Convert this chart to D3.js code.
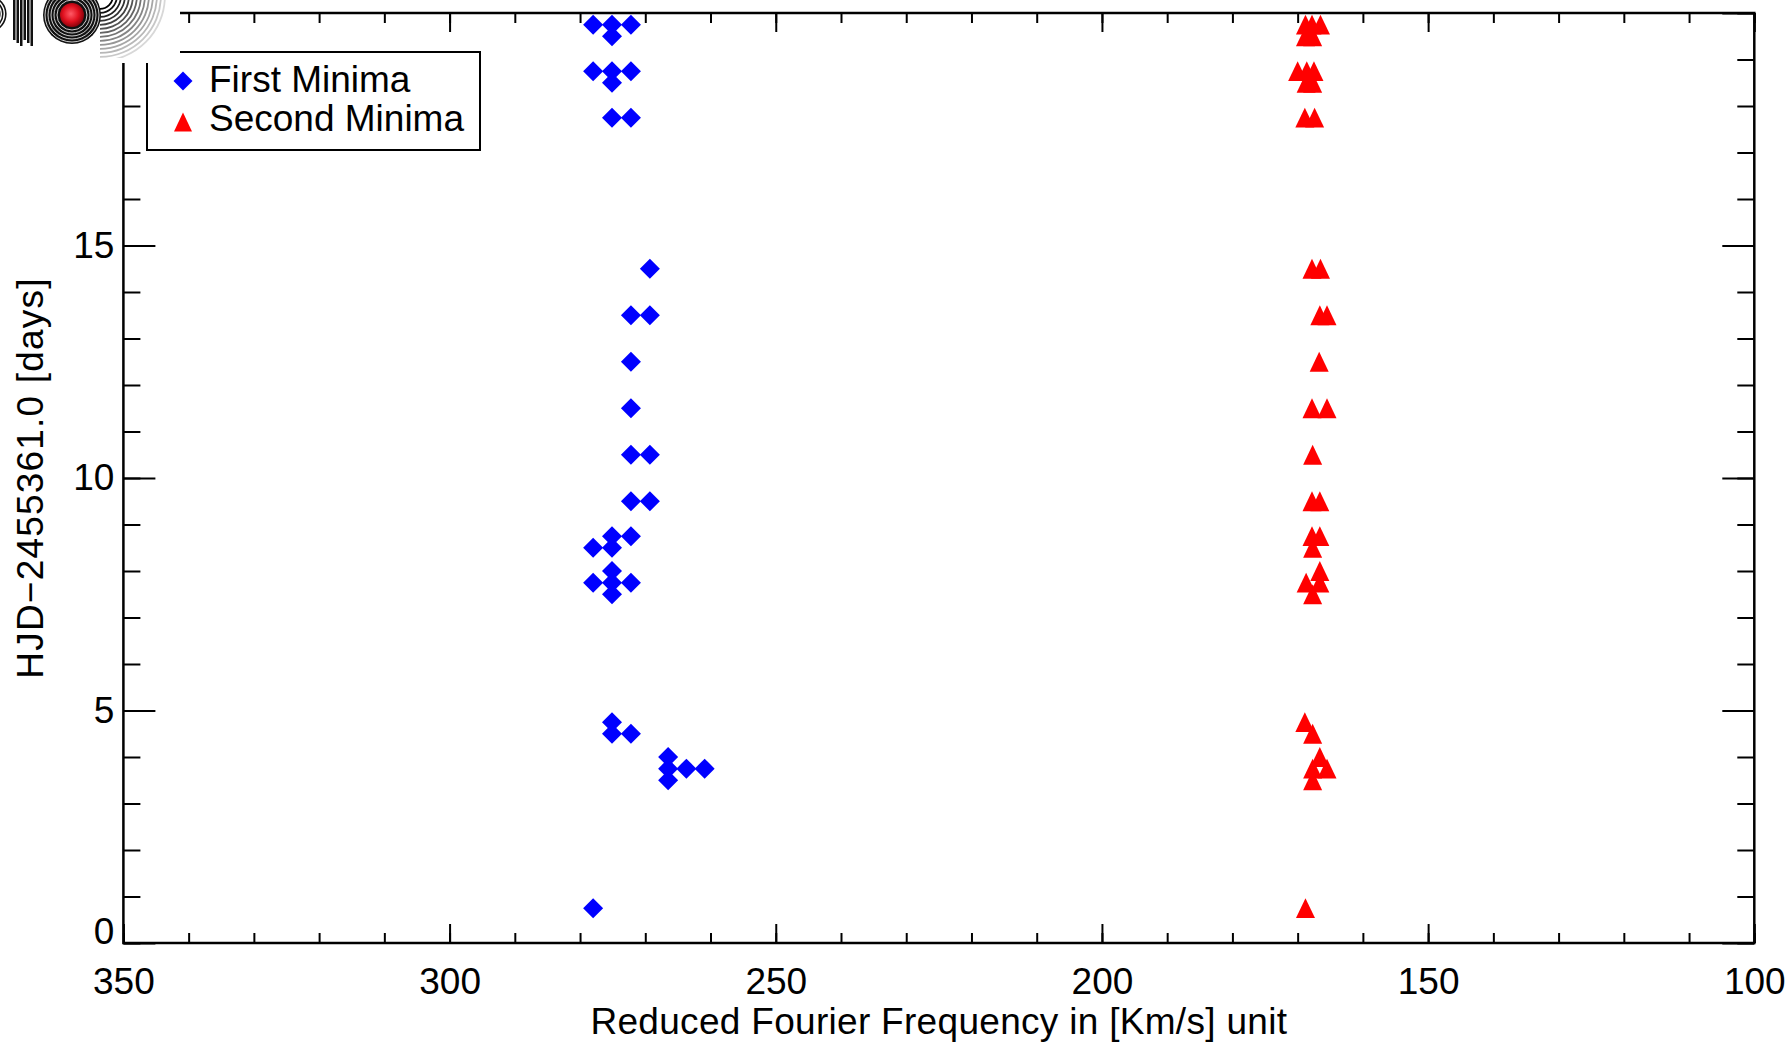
<!DOCTYPE html>
<html>
<head>
<meta charset="utf-8">
<script src="https://cdn.jsdelivr.net/npm/d3@7"></script>
<style>
  html, body { margin: 0; padding: 0; background: #fff; }
  svg { display: block; font-family: "Liberation Sans", Arial, Helvetica, sans-serif; }
</style>
</head>
<body>
<svg id="chart" width="1792" height="1046"></svg>
<script>
// First minima: reduced Fourier frequency (km/s) and observation day (HJD - 2455361.0)
const firstFreq = [278.0, 275.1, 272.2, 275.1,
                   278.0, 275.1, 272.2, 275.1,
                   275.1, 272.2,
                   269.3, 272.2, 269.3, 272.2, 272.2,
                   272.2, 269.3, 272.2, 269.3,
                   275.1, 272.2, 278.0, 275.1, 275.1,
                   278.0, 275.1, 272.2, 275.1,
                   275.1, 275.1, 272.2,
                   266.5, 266.5, 263.7, 260.9, 266.5,
                   278.0];
const firstDay  = [19.75, 19.75, 19.75, 19.5,
                   18.75, 18.75, 18.75, 18.5,
                   17.75, 17.75,
                   14.5, 13.5, 13.5, 12.5, 11.5,
                   10.5, 10.5, 9.5, 9.5,
                   8.75, 8.75, 8.5, 8.5, 8.0,
                   7.75, 7.75, 7.75, 7.5,
                   4.75, 4.5, 4.5,
                   4.0, 3.75, 3.75, 3.75, 3.5,
                   0.75];

// Second minima
const secondFreq = [168.8, 167.8, 166.5, 168.8, 167.7,
                    170.0, 168.6, 167.5, 168.7, 167.7,
                    168.9, 167.4,
                    167.8, 166.5, 166.6, 165.5, 166.7,
                    167.8, 165.5, 167.7, 167.8, 166.6,
                    167.8, 166.6, 167.7, 166.6, 168.7, 166.6, 167.7,
                    168.9, 167.7, 166.6, 167.7, 165.5, 167.7,
                    168.8];
const secondDay  = [19.75, 19.75, 19.75, 19.5, 19.5,
                    18.75, 18.75, 18.75, 18.5, 18.5,
                    17.75, 17.75,
                    14.5, 14.5, 13.5, 13.5, 12.5,
                    11.5, 11.5, 10.5, 9.5, 9.5,
                    8.75, 8.75, 8.5, 8.0, 7.75, 7.75, 7.5,
                    4.75, 4.5, 4.0, 3.75, 3.75, 3.5,
                    0.75];

const xTickValues = [350, 300, 250, 200, 150, 100];
const xTickLabels = ["350", "300", "250", "200", "150", "100"];
const yTickValues = [0, 5, 10, 15, 20];
const yTickLabels = ["0", "5", "10", "15"];   // top tick sits under the corner logo, unlabeled

const seriesNames = ["First Minima", "Second Minima"];
const xTitle = "Reduced Fourier Frequency in [Km/s] unit";
const yTitle = "HJD\u22122455361.0 [days]";

// ---- layout ----
const svg = d3.select("#chart");
const plot = { left: 123.4, right: 1754.3, top: 13, bottom: 943 };
const FONT = 37;

const x = d3.scaleLinear().domain([350, 100]).range([plot.left, plot.right]);
const y = d3.scaleLinear().domain([0, 20]).range([plot.bottom, plot.top]);

// ---- symbols ----
const diamond = {
  draw(ctx, size) {
    const r = Math.sqrt(size) / 2;
    ctx.moveTo(0, -r); ctx.lineTo(r, 0); ctx.lineTo(0, r); ctx.lineTo(-r, 0); ctx.closePath();
  }
};
const triangle = {
  draw(ctx, size) {
    const r = Math.sqrt(size) / 2;
    const h = r * 2.1;
    ctx.moveTo(0, -h / 2); ctx.lineTo(r, h / 2); ctx.lineTo(-r, h / 2); ctx.closePath();
  }
};

// ---- points ----
const first = firstFreq.map((f, i) => ({ f, d: firstDay[i] }));
const second = secondFreq.map((f, i) => ({ f, d: secondDay[i] }));

svg.append("g").selectAll("path").data(first).join("path")
  .attr("transform", p => `translate(${x(p.f)},${y(p.d)})`)
  .attr("d", d3.symbol().type(diamond).size(400))
  .attr("fill", "#0000ff");

svg.append("g").selectAll("path").data(second).join("path")
  .attr("transform", p => `translate(${x(p.f)},${y(p.d)})`)
  .attr("d", d3.symbol().type(triangle).size(361))
  .attr("fill", "#ff0000");

// ---- axes ----
function styleAxis(g) {
  g.select(".domain").remove();
  g.selectAll(".tick line").attr("stroke", "#000").attr("stroke-width", 2);
  g.selectAll(".tick text").attr("fill", "#000").attr("font-size", FONT)
    .attr("font-family", "'Liberation Sans', Arial, Helvetica, sans-serif");
}
function addAxis(axis, tx, ty) {
  return svg.append("g").attr("transform", `translate(${tx},${ty})`).call(axis).call(styleAxis);
}

const xMinor = x.ticks(25);
const yMinor = y.ticks(20);

// bottom
addAxis(d3.axisBottom(x).tickValues(xMinor).tickSize(-10).tickSizeOuter(0).tickFormat(""), 0, plot.bottom);
addAxis(d3.axisBottom(x).tickValues(xTickValues).tickSize(-19).tickSizeOuter(0).tickPadding(25)
  .tickFormat((d, i) => xTickLabels[i]), 0, plot.bottom);
// top
addAxis(d3.axisTop(x).tickValues(xMinor).tickSize(-10).tickSizeOuter(0).tickFormat(""), 0, plot.top);
addAxis(d3.axisTop(x).tickValues(xTickValues).tickSize(-19).tickSizeOuter(0).tickFormat(""), 0, plot.top);
// left
addAxis(d3.axisLeft(y).tickValues(yMinor).tickSize(-17).tickSizeOuter(0).tickFormat(""), plot.left, 0);
const yAxisG = addAxis(d3.axisLeft(y).tickValues(yTickValues).tickSize(-32).tickSizeOuter(0).tickPadding(9)
  .tickFormat((d, i) => yTickLabels[i] ?? ""), plot.left, 0);
yAxisG.selectAll(".tick text").filter(d => d === 0).attr("y", -11);
yAxisG.selectAll(".tick text").filter(function () { return this.textContent === ""; }).remove();
// right
addAxis(d3.axisRight(y).tickValues(yMinor).tickSize(-17).tickSizeOuter(0).tickFormat(""), plot.right, 0);
addAxis(d3.axisRight(y).tickValues(yTickValues).tickSize(-32).tickSizeOuter(0).tickFormat(""), plot.right, 0);

// frame
svg.append("rect")
  .attr("x", plot.left).attr("y", plot.top)
  .attr("width", plot.right - plot.left).attr("height", plot.bottom - plot.top)
  .attr("fill", "none").attr("stroke", "#000").attr("stroke-width", 2.5);

// ---- titles ----
svg.append("text")
  .attr("x", (plot.left + plot.right) / 2).attr("y", 1034)
  .attr("text-anchor", "middle").attr("font-size", FONT).attr("fill", "#000")
  .attr("letter-spacing", 0.3)
  .text(xTitle);

svg.append("text")
  .attr("transform", `translate(43,${(plot.top + plot.bottom) / 2}) rotate(-90)`)
  .attr("text-anchor", "middle").attr("font-size", FONT).attr("fill", "#000")
  .attr("letter-spacing", 1.2)
  .text(yTitle);

// ---- legend ----
const legend = svg.append("g");
legend.append("rect")
  .attr("x", 147).attr("y", 52).attr("width", 333).attr("height", 98)
  .attr("fill", "#fff").attr("stroke", "#000").attr("stroke-width", 2);
const legendRows = [
  { name: seriesNames[0], sym: diamond, size: 360, color: "#0000ff", cy: 81, ty: 92 },
  { name: seriesNames[1], sym: triangle, size: 324, color: "#ff0000", cy: 122, ty: 131 }
];
legendRows.forEach(r => {
  legend.append("path")
    .attr("transform", `translate(183,${r.cy})`)
    .attr("d", d3.symbol().type(r.sym).size(r.size))
    .attr("fill", r.color);
  legend.append("text")
    .attr("x", 209).attr("y", r.ty)
    .attr("font-size", FONT).attr("fill", "#000")
    .text(r.name);
});

// ---- corner logo ----
const logo = svg.append("g");
logo.append("rect").attr("x", 0).attr("y", 0).attr("width", 180).attr("height", 63).attr("fill", "#fff");
const defs = svg.append("defs");
defs.append("clipPath").attr("id", "logoClip")
  .append("rect").attr("x", 0).attr("y", 0).attr("width", 176).attr("height", 58);
const grad = defs.append("radialGradient").attr("id", "core")
  .attr("cx", "0.45").attr("cy", "0.45").attr("r", "0.6");
grad.append("stop").attr("offset", "0%").attr("stop-color", "#ff5a66");
grad.append("stop").attr("offset", "55%").attr("stop-color", "#e0101e");
grad.append("stop").attr("offset", "100%").attr("stop-color", "#7a0008");

const lg = logo.append("g").attr("clip-path", "url(#logoClip)");
// left fragment of a striped letter
d3.range(0, 4).forEach(i => {
  lg.append("path")
    .attr("d", d3.arc()({ innerRadius: 8 + i * 3, outerRadius: 9.6 + i * 3, startAngle: 0.2, endAngle: 2.9 }))
    .attr("transform", "translate(-12,14)").attr("fill", "#111");
});
// striped upright stroke
d3.range(0, 6).forEach(i => {
  lg.append("rect").attr("x", 13 + i * 3.5).attr("y", 0).attr("width", 2.5)
    .attr("height", 40 + (i % 3) * 3).attr("fill", "#111");
});
// ringed disc with red core
lg.append("circle").attr("cx", 72).attr("cy", 15).attr("r", 29).attr("fill", "#111");
d3.range(0, 5).forEach(i => {
  lg.append("circle").attr("cx", 72).attr("cy", 15).attr("r", 15 + i * 3)
    .attr("fill", "none").attr("stroke", "#fff").attr("stroke-width", 0.8);
});
lg.append("circle").attr("cx", 72).attr("cy", 15).attr("r", 12).attr("fill", "url(#core)");
// fading ripples on the right
d3.range(0, 14).forEach(i => {
  const r0 = 12 + i * 4;
  lg.append("path")
    .attr("d", d3.arc()({ innerRadius: r0, outerRadius: r0 + 1.8, startAngle: Math.PI * 0.5, endAngle: Math.PI }))
    .attr("transform", "translate(100,-4)")
    .attr("fill", d3.interpolateRgb("#000", "#d8d8d8")(i / 13));
});
</script>
</body>
</html>
